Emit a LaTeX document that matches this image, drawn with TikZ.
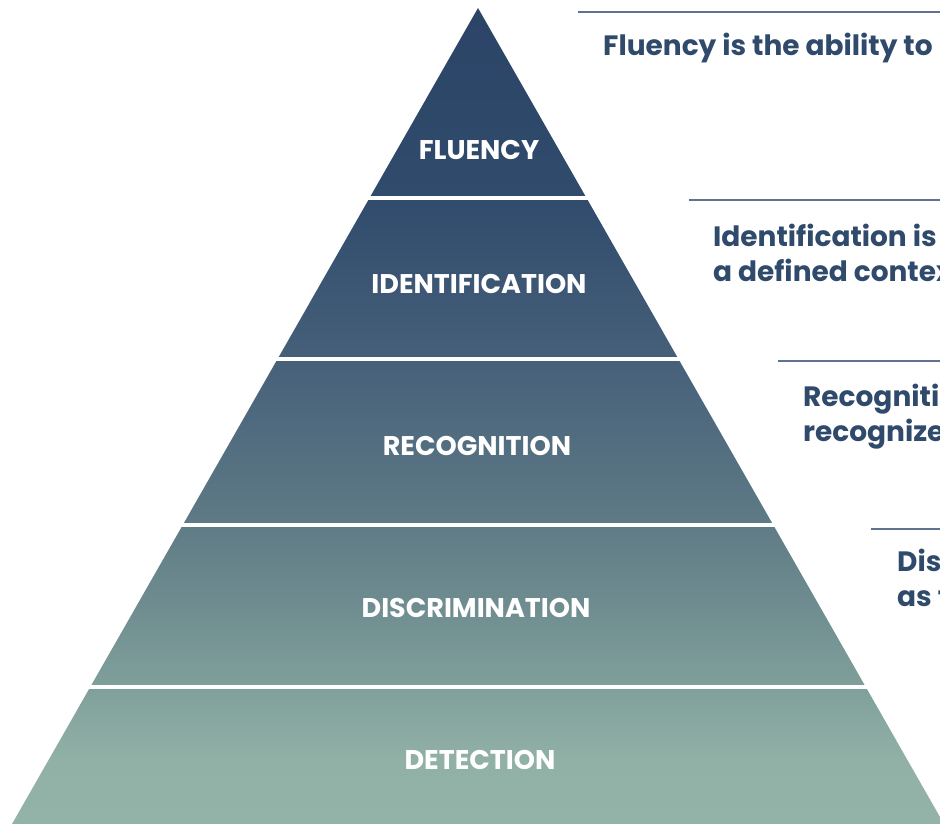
\documentclass[tikz,border=0pt]{standalone}
\usepackage{fontspec}
\setmainfont{Poppins}
\definecolor{c0}{HTML}{2B4467}
\definecolor{c1}{HTML}{304B6C}
\definecolor{c2}{HTML}{46607A}
\definecolor{c3}{HTML}{5E7A85}
\definecolor{c4}{HTML}{80A09B}
\definecolor{c5}{HTML}{91B1A7}
\definecolor{c6}{HTML}{93B3A9}
\definecolor{txtc}{HTML}{2F4A6B}
\definecolor{rulec}{HTML}{5F7390}
\pgfdeclareverticalshading{pyr}{100bp}{color(0bp)=(c6); color(25bp)=(c6); color(28.9bp)=(c5); color(33.2bp)=(c4); color(43.6bp)=(c3); color(53.4bp)=(c2); color(63.5bp)=(c1); color(75bp)=(c0); color(100bp)=(c0)}
\tikzset{
  lvl/.style={text=white, font=\bfseries\fontsize{27}{31}\selectfont, inner sep=0pt},
  desc/.style={text=txtc, font=\bfseries\fontsize{28}{32}\selectfont, anchor=base west, inner sep=0pt},
  rul/.style={draw=rulec, line width=1.5pt},
  gap/.style={fill=white, draw=none}
}
\begin{document}
\begin{tikzpicture}[x=1pt,y=-1pt]
\useasboundingbox (0,0) rectangle (940,824);
\clip (0,0) rectangle (940,824);
% pyramid
\coordinate (apex) at (478,8);
\coordinate (bl) at (12,824);
\coordinate (br) at (944,824);
\shade[shading=pyr] (apex) -- (br) -- (bl) -- cycle;
% white gaps
\fill[gap] (0,195.5) rectangle (940,200);
\fill[gap] (0,356.5) rectangle (940,361);
\fill[gap] (0,522.5) rectangle (940,527);
\fill[gap] (0,684.5) rectangle (940,689);
% level labels
\node[lvl] (fl) at (479,150) {FLUENCY};
\node[lvl] (id) at (479,284) {IDENTIFICATION};
\node[lvl] (rc) at (477,446) {RECOGNITION};
\node[lvl] (ds) at (476,608) {DISCRIMINATION};
\node[lvl] (dt) at (480,760) {DETECTION};
% rules
\coordinate (r1a) at (578,12); \coordinate (r1b) at (940,12);
\coordinate (r2a) at (689,200); \coordinate (r2b) at (940,200);
\coordinate (r3a) at (778,361); \coordinate (r3b) at (940,361);
\coordinate (r4a) at (871,529); \coordinate (r4b) at (940,529);
\draw[rul] (r1a) -- (r1b);
\draw[rul] (r2a) -- (r2b);
\draw[rul] (r3a) -- (r3b);
\draw[rul] (r4a) -- (r4b);
% descriptions
\node[desc] (t1) at (603,56) {Fluency is the ability to};
\node[desc] (t2a) at (713,246) {Identification is};
\node[desc] (t2b) at (713,281) {a defined context};
\node[desc] (t3a) at (803,406) {Recognition};
\node[desc] (t3b) at (803,441) {recognize};
\node[desc] (t4a) at (897,571) {Discrimination};
\node[desc] (t4b) at (897,606) {as the};
\end{tikzpicture}
\end{document}
